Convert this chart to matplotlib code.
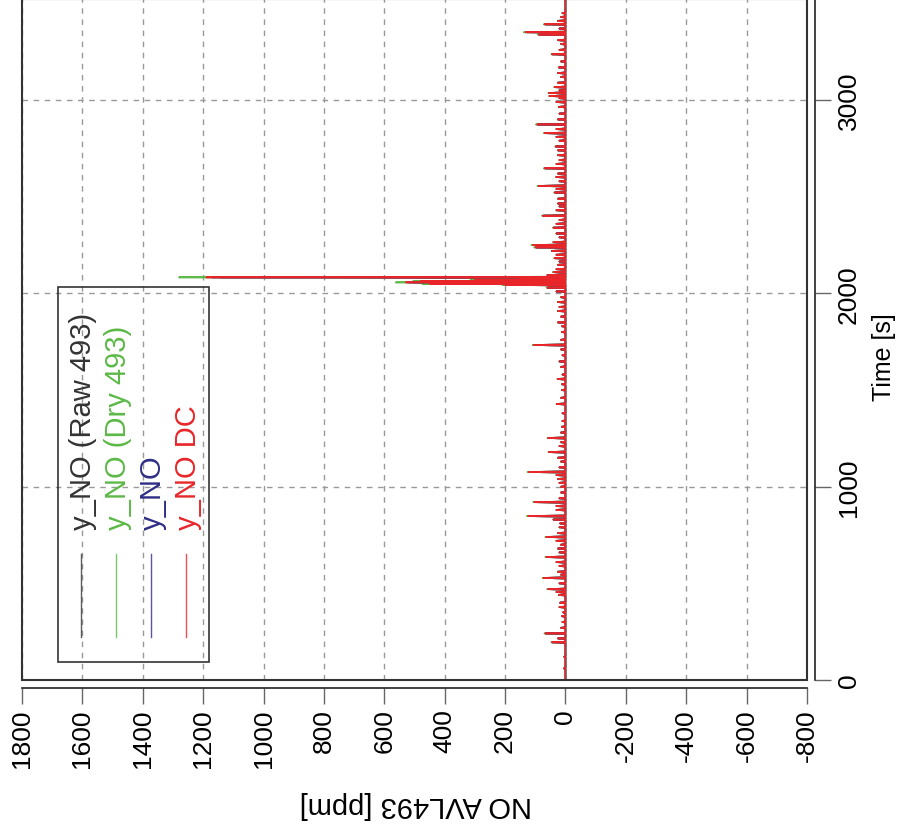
import numpy as np
import matplotlib
matplotlib.use('Agg')
import matplotlib.pyplot as plt
from matplotlib.patches import Rectangle

plt.rcParams['font.family'] = ['Liberation Sans', 'DejaVu Sans']

# spike positions [s] and peak heights [ppm]
spike_t = [195, 241, 300, 377, 470, 528, 560, 636, 700, 740, 790, 848, 880, 920, 1000,
           1040, 1076, 1130, 1179, 1252, 1340, 1428, 1500, 1557, 1648, 1733, 1800, 1850,
           1909, 1955, 2030, 2044, 2050, 2057, 2063, 2069, 2076, 2083, 2110, 2148, 2182,
           2238, 2250, 2340, 2402, 2465, 2522, 2556, 2602, 2647, 2715, 2760, 2829, 2874,
           2965, 3021, 3037, 3067, 3169, 3237, 3339, 3351, 3392, 3450]
no_raw = [43, 64, 10, 19, 55, 70, 24, 61, 14, 61, 19, 117, 29, 98, 14, 24, 115, 14, 52, 55,
          10, 28, 11, 25, 19, 100, 11, 24, 24, 24, 57, 190, 428, 505, 456, 286, 143, 1140,
          38, 24, 34, 94, 103, 38, 71, 24, 34, 85, 29, 66, 24, 31, 66, 89, 21, 50, 52, 34,
          21, 43, 84, 126, 66, 10]
no_dry = [47, 70, 11, 21, 61, 76, 26, 67, 16, 67, 21, 128, 31, 107, 16, 26, 126, 16, 57, 60,
          11, 30, 13, 27, 21, 109, 13, 26, 26, 26, 63, 210, 475, 562, 505, 315, 158, 1280,
          42, 26, 38, 104, 113, 42, 78, 26, 38, 93, 32, 72, 26, 34, 72, 98, 23, 55, 57, 38,
          23, 47, 92, 138, 72, 11]
no_wet = [44, 66, 10, 20, 57, 72, 25, 63, 15, 63, 20, 121, 30, 101, 15, 25, 119, 15, 54, 57,
          10, 29, 12, 26, 20, 103, 12, 25, 25, 25, 59, 196, 441, 520, 470, 295, 147, 1170,
          39, 25, 35, 97, 106, 39, 74, 25, 35, 87, 30, 68, 25, 32, 68, 92, 22, 52, 54, 35,
          22, 44, 86, 130, 68, 10]
no_dc = [45, 67, 10, 20, 58, 73, 25, 64, 15, 64, 20, 123, 30, 103, 15, 25, 121, 15, 55, 58,
         10, 29, 12, 26, 20, 105, 12, 25, 25, 25, 60, 200, 450, 529, 480, 300, 150, 1190,
         40, 25, 36, 99, 108, 40, 75, 25, 36, 89, 31, 69, 25, 33, 69, 94, 22, 53, 55, 36,
         22, 45, 88, 132, 69, 10]
# small ripple along the baseline, common to all four traces at this scale
ripple_t = [60, 120, 215, 270, 330, 350, 400, 440, 455, 500, 545, 590, 610, 660, 680, 720,
            760, 810, 830, 900, 940, 970, 1020, 1060, 1100, 1150, 1210, 1230, 1280, 1310,
            1380, 1460, 1530, 1580, 1620, 1680, 1710, 1760, 1830, 1880, 1930, 1980, 2010,
            2095, 2125, 2165, 2200, 2220, 2265, 2290, 2310, 2360, 2380, 2430, 2450, 2490,
            2540, 2580, 2620, 2670, 2690, 2740, 2790, 2810, 2850, 2900, 2930, 2990, 3010,
            3050, 3090, 3120, 3140, 3200, 3260, 3290, 3310, 3370, 3410, 3430]
ripple_ppm = [5, 4, 25, 15, 12, 8, 18, 22, 30, 20, 15, 20, 30, 20, 25, 30, 25, 18, 40, 30,
              20, 15, 20, 30, 20, 25, 20, 15, 15, 12, 10, 15, 12, 10, 15, 10, 15, 15, 12, 15,
              20, 15, 30, 60, 30, 20, 30, 45, 40, 20, 30, 30, 20, 30, 20, 25, 30, 20, 25, 30,
              20, 25, 20, 30, 30, 25, 20, 30, 20, 20, 25, 15, 25, 15, 20, 15, 25, 20, 25, 15]
t_end = 3525

labels = ['y_NO (Raw 493)', 'y_NO (Dry 493)', 'y_NO', 'y_NO DC']
colors = ['#333333', '#5cb946', '#2e2e85', '#e8262a']


def trace(peaks):
    # each spike goes back to the zero baseline 3 s either side of its peak
    st = np.r_[spike_t, ripple_t].astype(float)
    pk = np.r_[peaks, ripple_ppm].astype(float)
    o = np.argsort(st)
    st, pk = st[o], pk[o]
    z = np.zeros(len(st))
    tt = np.column_stack([st - 3, st, st + 3]).ravel()
    yy = np.column_stack([z, pk, z]).ravel()
    return np.r_[0, tt, t_end], np.r_[0, yy, 0]


W, H = 900, 828
fig = plt.figure(figsize=(W / 100, H / 100), dpi=100)
ax = fig.add_axes([22 / W, (H - 681) / H, (807 - 22) / W, 681 / H])

# plotted with time on the vertical axis (chart is turned a quarter turn)
for vals, c in zip([no_raw, no_dry, no_wet, no_dc], colors):
    t, y = trace(vals)
    ax.plot(y, t, color=c, lw=1.2)

ax.set_xlim(1800, -800)
ax.set_ylim(0, 3523)
ax.set_xticks(np.arange(-800, 1801, 200))
ax.set_yticks([0, 1000, 2000, 3000])
ax.grid(True, color='#999999', ls=(0, (4, 4)), lw=1)

ax.spines['left'].set_visible(False)
ax.spines['top'].set_visible(False)
for s in ['bottom', 'right']:
    ax.spines[s].set_position(('outward', 5.8))
    ax.spines[s].set_color('#222222')
    ax.spines[s].set_linewidth(1.2)
ax.spines['bottom'].set_bounds(-800, 1800)
ax.spines['right'].set_bounds(0, 3523)
ax.add_patch(Rectangle((0, 0), 1, 1, transform=ax.transAxes, fill=False,
                       ec='#333333', lw=1.5, clip_on=False, zorder=5))

ax.yaxis.tick_right()
ax.tick_params(axis='both', length=11.5, width=1, color='#666666', labelsize=19,
               direction='out')
ax.tick_params(axis='x', pad=3)
ax.tick_params(axis='y', pad=4)
ax.set_xticklabels([str(v) for v in np.arange(-800, 1801, 200)], rotation=90)
ax.set_yticklabels(['0', '1000', '2000', '3000'], rotation=90, va='center')

fig.text(416 / W, 1 - 805 / H, 'NO AVL493 [ppm]', rotation=180, ha='center',
         va='center', fontsize=21)
fig.text(884 / W, 1 - 357 / H, 'Time [s]', rotation=90, ha='center', va='center',
         fontsize=18)

# legend, drawn by hand in figure pixels
fig.patches.append(Rectangle((58 / W, 1 - 663 / H), (209 - 58) / W, (663 - 288) / H,
                             transform=fig.transFigure, fill=False, ec='#333333', lw=1.2))
for i, (lab, c) in enumerate(zip(labels, colors)):
    x = (81 + 35 * i) / W
    fig.add_artist(plt.Line2D([x, x], [1 - 638 / H, 1 - 555 / H], color=c, lw=1,
                              alpha=0.8))
    fig.text((83 + 35 * i) / W, 1 - 530 / H, lab, rotation=90, rotation_mode='anchor',
             ha='left', va='center', fontsize=21, color=c)

fig.savefig('out.png', dpi=100)
